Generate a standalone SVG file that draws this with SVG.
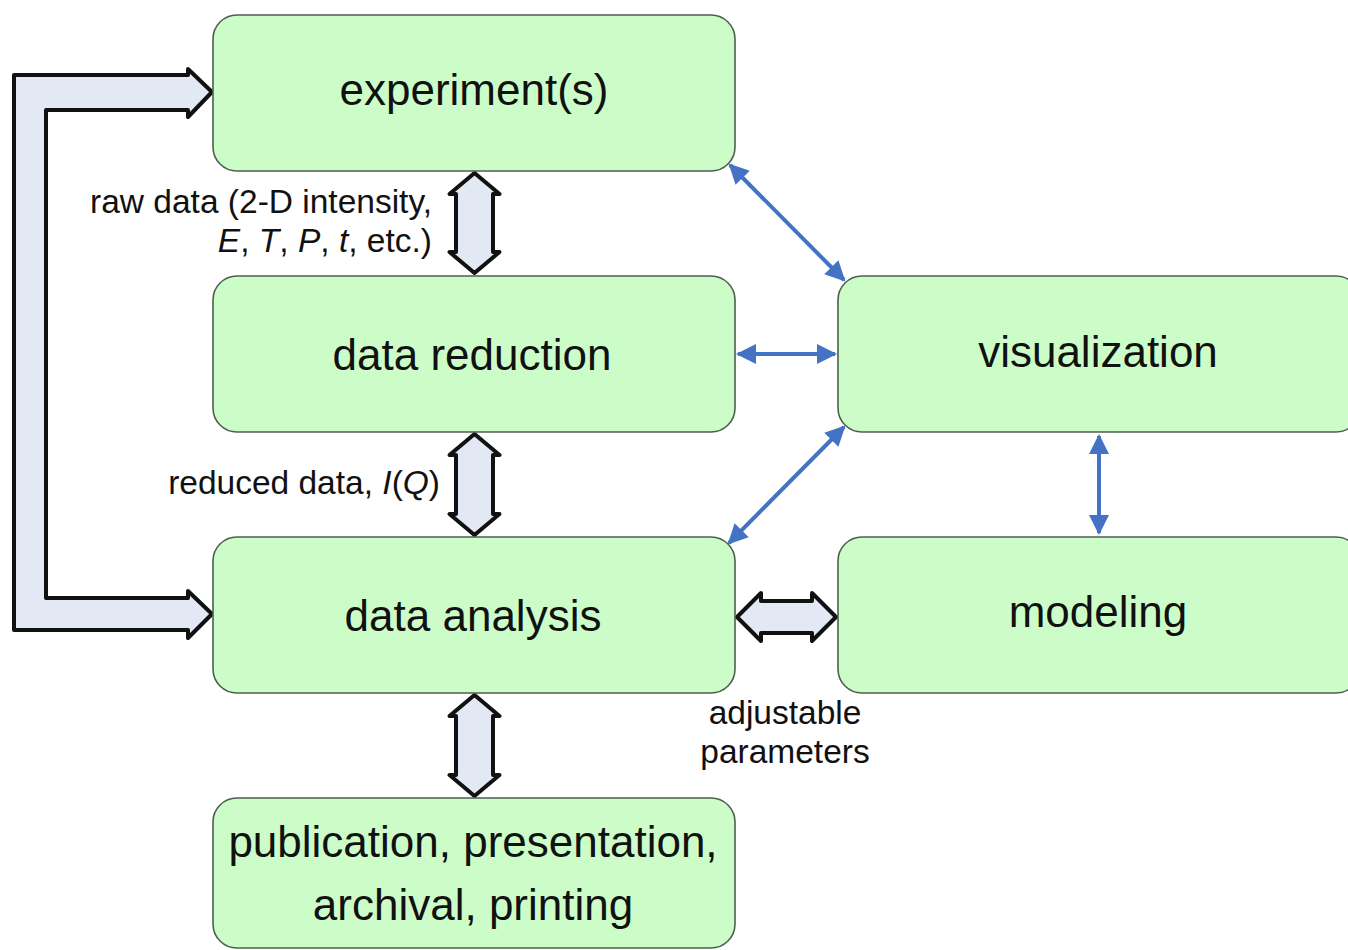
<svg xmlns="http://www.w3.org/2000/svg" width="1348" height="950" viewBox="0 0 1348 950">
<defs>
<style>
.box{fill:#ccfdc9;stroke:#4d5f4d;stroke-width:1.6}
.big{font-family:"Liberation Sans",Arial,sans-serif;font-size:44px;fill:#111;text-anchor:middle}
.lbl{font-family:"Liberation Sans",Arial,sans-serif;font-size:33.5px;fill:#111}
.fat{fill:#e3e8f5;stroke:#111;stroke-width:4;stroke-linejoin:round}
.blue{stroke:#4472c4;stroke-width:4;fill:none;marker-start:url(#ah);marker-end:url(#ah)}
</style>
<marker id="ah" viewBox="0 0 10 10" refX="9" refY="5" markerWidth="5.5" markerHeight="5" orient="auto-start-reverse" markerUnits="strokeWidth">
<path d="M0,0 L10,5 L0,10 Z" fill="#4472c4"/>
</marker>
</defs>
<rect width="1348" height="950" fill="#fff"/>
<g id="connectors">
<path class="fat" d="M14,75 L188,75 L188,69 L212,92 L188,117 L188,110 L46,110 L46,598 L188,598 L188,591 L212,614 L188,638 L188,630 L14,630 Z"/>
<path class="fat" d="M474.5,173 L499.5,194 L493,194 L493,252 L499.5,252 L474.5,273 L449.5,252 L456,252 L456,194 L449.5,194 Z"/>
<path class="fat" d="M474.5,434 L499.5,455 L493,455 L493,514 L499.5,514 L474.5,535 L449.5,514 L456,514 L456,455 L449.5,455 Z"/>
<path class="fat" d="M474.5,695 L499.5,716 L493,716 L493,775 L499.5,775 L474.5,796 L449.5,775 L456,775 L456,716 L449.5,716 Z"/>
<path class="fat" d="M737,617 L761,593 L761,601 L812,601 L812,593 L836,617 L812,641 L812,633 L761,633 L761,641 Z"/>
<line class="blue" x1="730" y1="165" x2="844" y2="280"/>
<line class="blue" x1="738" y1="354" x2="835" y2="354"/>
<line class="blue" x1="844" y1="427" x2="729" y2="543"/>
<line class="blue" x1="1099" y1="436" x2="1099" y2="533"/>
</g>
<g id="experiments"><rect class="box" x="213" y="15" width="522" height="156" rx="24"/><text class="big" x="474" y="105">experiment(s)</text></g>
<g id="data-reduction"><rect class="box" x="213" y="276" width="522" height="156" rx="24"/><text class="big" x="472" y="370">data reduction</text></g>
<g id="data-analysis"><rect class="box" x="213" y="537" width="522" height="156" rx="24"/><text class="big" x="473" y="631">data analysis</text></g>
<g id="publication"><rect class="box" x="213" y="798" width="522" height="150" rx="24"/><text class="big" x="473" y="857">publication, presentation,</text><text class="big" x="473" y="920">archival, printing</text></g>
<g id="visualization"><rect class="box" x="838" y="276" width="522" height="156" rx="24"/><text class="big" x="1098" y="367">visualization</text></g>
<g id="modeling"><rect class="box" x="838" y="537" width="522" height="156" rx="24"/><text class="big" x="1098" y="627">modeling</text></g>
<g id="labels">
<text class="lbl" x="432" y="213" text-anchor="end">raw data (2-D intensity,</text>
<text class="lbl" x="432" y="252" text-anchor="end"><tspan font-style="italic">E</tspan>, <tspan font-style="italic">T</tspan>, <tspan font-style="italic">P</tspan>, <tspan font-style="italic">t</tspan>, etc.)</text>
<text class="lbl" x="440" y="494" text-anchor="end">reduced data, <tspan font-style="italic">I</tspan>(<tspan font-style="italic">Q</tspan>)</text>
<text class="lbl" x="785" y="724" text-anchor="middle" font-size="33">adjustable</text>
<text class="lbl" x="785" y="763" text-anchor="middle" font-size="33">parameters</text>
</g>
</svg>
